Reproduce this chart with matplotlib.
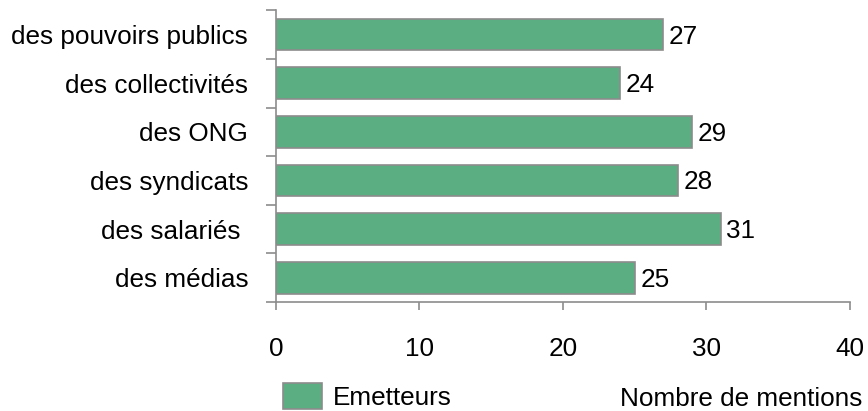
import matplotlib.pyplot as plt
from matplotlib.patches import Rectangle

categories = ["des pouvoirs publics", "des collectivités", "des ONG",
              "des syndicats", "des salariés ", "des médias"]
values = [27, 24, 29, 28, 31, 25]
xticks = [0, 10, 20, 30, 40]

bar_color = "#5aae82"
edge_color = "#8c8c8c"
axis_color = "#8c8c8c"

plt.rcParams["font.family"] = ["Liberation Sans", "DejaVu Sans"]
fs = 18.8

fig = plt.figure(figsize=(8.68, 4.11), dpi=100)
ax = fig.add_axes([0.318, 0.265, 0.661, 0.71])

y = list(range(len(categories)))[::-1]
ax.barh(y, values, height=0.65, color=bar_color, edgecolor=edge_color, linewidth=1.2)

for yi, v in zip(y, values):
    ax.text(v + 0.4, yi - 0.04, str(v), va="center", ha="left", fontsize=fs)

ax.set_xlim(0, 40)
ax.set_ylim(-0.5, len(categories) - 0.5)
ax.set_xticks(xticks)
ax.set_yticks(y)
ax.set_yticklabels(categories)
ax.set_yticks([i - 0.5 for i in range(len(categories) + 1)], minor=True)

ax.tick_params(axis="y", which="major", length=0, pad=20, labelsize=fs)
ax.tick_params(axis="y", which="minor", length=7, width=1.2, color=axis_color, direction="out")
ax.tick_params(axis="x", length=6, width=1.2, color=axis_color, pad=19, labelsize=fs)

for s in ["top", "right"]:
    ax.spines[s].set_visible(False)
for s in ["left", "bottom"]:
    ax.spines[s].set_color(axis_color)
    ax.spines[s].set_linewidth(1.2)

# legend drawn by hand at the bottom
fig.patches.append(Rectangle((0.326, 0.004), 0.045, 0.064, transform=fig.transFigure,
                             facecolor=bar_color, edgecolor=edge_color, linewidth=1.2))
fig.text(0.384, 0.014, "Emetteurs", ha="left", va="baseline", fontsize=fs)

fig.text(0.994, 0.012, "Nombre de mentions", ha="right", va="baseline", fontsize=fs)

fig.savefig("out.png", dpi=100)
